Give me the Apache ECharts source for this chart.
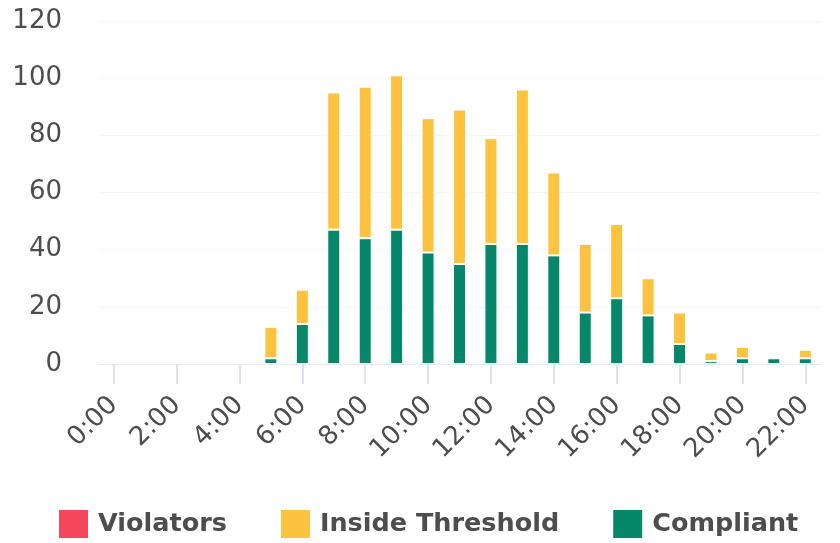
<!DOCTYPE html>
<html>
<head>
<meta charset="utf-8">
<script src="https://cdn.jsdelivr.net/npm/echarts@6/dist/echarts.min.js"></script>
<style>
html,body{margin:0;padding:0;background:#fff;}
#chart{width:840px;height:543px;}
</style>
</head>
<body>
<div id="chart"></div>
<script>
const hours = ['0:00','1:00','2:00','3:00','4:00','5:00','6:00','7:00','8:00','9:00','10:00','11:00','12:00','13:00','14:00','15:00','16:00','17:00','18:00','19:00','20:00','21:00','22:00'];
const violators = [0,0,0,0,0,0,0,0,0,0,0,0,0,0,0,0,0,0,0,0,0,0,0];
const insideThreshold = [0,0,0,0,0,11,12,48,53,54,47,54,37,54,29,24,26,13,11,3,4,0,3];
const compliant = [0,0,0,0,0,2,14,47,44,47,39,35,42,42,38,18,23,17,7,1,2,2,2];
const yTicks = {min:0, max:120, interval:20};

// zero values are not drawn as visible marks
const hideZero = arr => arr.map(v => (v === 0 ? '-' : v));

const chart = echarts.init(document.getElementById('chart'), null, {renderer:'canvas'});
const border = {borderColor:'#fff', borderWidth:1};
chart.setOption({
  animation:false,
  grid:{left:98, right:19, top:21, bottom:179},
  legend:{
    left:52, top:503, itemWidth:31, itemHeight:30, itemGap:52,
    icon:'rect',
    textStyle:{fontFamily:'DejaVu Sans', fontWeight:'bold', fontSize:25.5, color:'#4d4d4d', padding:[0,0,0,4]},
    data:['Violators','Inside Threshold','Compliant']
  },
  xAxis:{
    type:'category', data:hours,
    axisLine:{lineStyle:{color:'#e6e9f0', width:1}},
    axisTick:{show:true, interval:1, alignWithLabel:true, length:20, lineStyle:{color:'#dde2ee', width:2}},
    axisLabel:{interval:1, rotate:45, fontFamily:'DejaVu Sans', fontSize:26, color:'#4d4d4d', margin:37}
  },
  yAxis:{
    type:'value', min:yTicks.min, max:yTicks.max, interval:yTicks.interval,
    axisLine:{show:false}, axisTick:{show:false},
    splitLine:{lineStyle:{color:'#f6f6f8'}},
    axisLabel:{fontFamily:'DejaVu Sans', fontSize:26, color:'#4d4d4d', margin:36}
  },
  series:[
    {name:'Compliant', type:'bar', stack:'a', data:hideZero(compliant), barWidth:13, itemStyle:Object.assign({color:'#078769'}, border)},
    {name:'Inside Threshold', type:'bar', stack:'a', data:hideZero(insideThreshold), barWidth:13, itemStyle:Object.assign({color:'#fdc23e'}, border)},
    {name:'Violators', type:'bar', stack:'a', data:hideZero(violators), barWidth:13, itemStyle:Object.assign({color:'#f4475b'}, border)}
  ]
});
</script>
</body>
</html>
